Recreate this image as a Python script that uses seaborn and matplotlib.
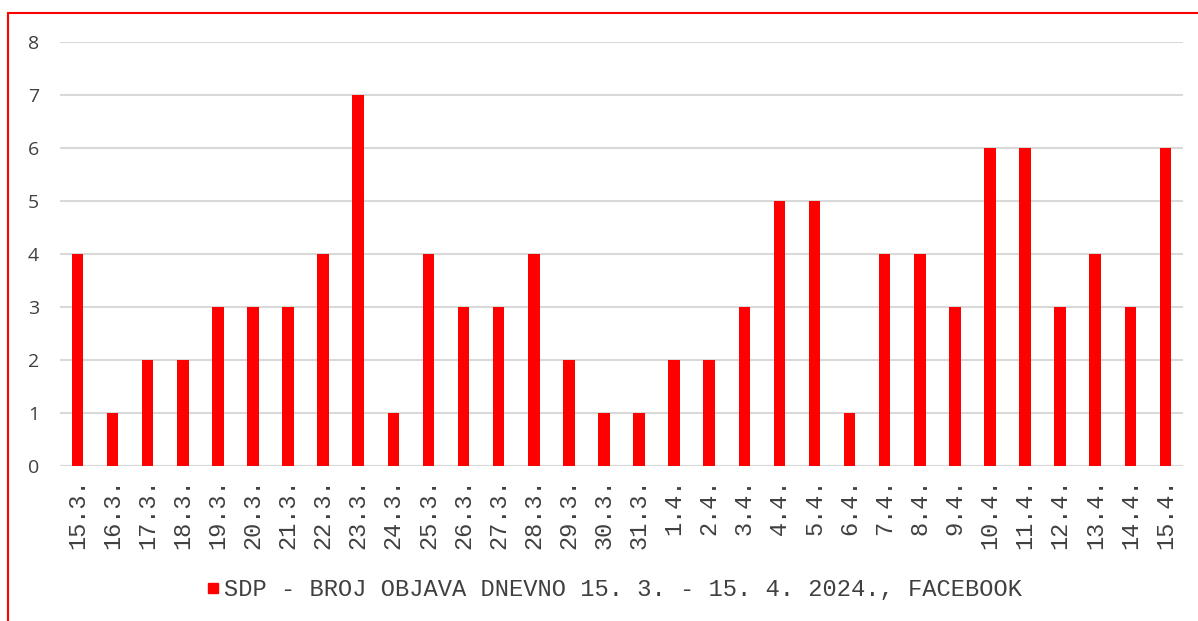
import matplotlib
matplotlib.use("Agg")
import matplotlib.pyplot as plt
import seaborn as sns
import pandas as pd
from matplotlib.patches import Rectangle
from matplotlib.lines import Line2D

# daily post counts
dates = ["15.3.", "16.3.", "17.3.", "18.3.", "19.3.", "20.3.", "21.3.", "22.3.",
         "23.3.", "24.3.", "25.3.", "26.3.", "27.3.", "28.3.", "29.3.", "30.3.",
         "31.3.", "1.4.", "2.4.", "3.4.", "4.4.", "5.4.", "6.4.", "7.4.",
         "8.4.", "9.4.", "10.4.", "11.4.", "12.4.", "13.4.", "14.4.", "15.4."]
posts = [4, 1, 2, 2, 3, 3, 3, 4, 7, 1, 4, 3, 3, 4, 2, 1,
         1, 2, 2, 3, 5, 5, 1, 4, 4, 3, 6, 6, 3, 4, 3, 6]
yticks = [0, 1, 2, 3, 4, 5, 6, 7, 8]
series_label = "SDP - BROJ OBJAVA DNEVNO 15. 3. - 15. 4. 2024., FACEBOOK"

df = pd.DataFrame({"datum": dates, "objave": posts})

sns.set_style("white")
mono = ["Liberation Mono", "DejaVu Sans Mono"]

fig = plt.figure(figsize=(11.98, 6.21), dpi=100)
ax = fig.add_axes([0.050, 0.2496, 0.9375, 0.6828])

sns.barplot(data=df, x="datum", y="objave", color="#ff0000", saturation=1,
            width=0.33, linewidth=0, ax=ax)

ax.set_xlim(-0.5, len(dates) - 0.5)
ax.set_ylim(0, 8)
ax.set_yticks(yticks)
ax.yaxis.grid(True, color="#d9d9d9", linewidth=1.5)
ax.set_axisbelow(True)
for s in ax.spines.values():
    s.set_visible(False)
ax.axhline(0, color="#d9d9d9", linewidth=1.5, zorder=0.5)

ax.set_xlabel("")
ax.set_ylabel("")
ax.tick_params(axis="y", length=0, pad=15, labelsize=14, labelcolor="#404040")
ax.tick_params(axis="x", length=0, pad=9)
for lab in ax.get_yticklabels():
    lab.set_family("Open Sans")
ax.set_xticks(range(len(dates)))
ax.set_xticklabels(dates, rotation=90, family=mono, fontsize=17, color="#404040")

handle = Line2D([], [], marker="s", linestyle="", markersize=7.5,
                color="#ff0000", label=series_label)
fig.legend(handles=[handle],
           loc="center", bbox_to_anchor=(614 / 1198, 1 - 590 / 621),
           frameon=False, handlelength=0.6, handletextpad=0.15,
           prop={"family": mono, "size": 17.1}, labelcolor="#404040")

# red frame around the chart (cropped on right/bottom)
fig.patches.append(Rectangle((8 / 1198, -0.1), 1.2, 1 - 13 / 621 + 0.1,
                             transform=fig.transFigure, fill=False,
                             edgecolor="#ff0000", linewidth=1.5))

fig.savefig("out.png", dpi=100)
